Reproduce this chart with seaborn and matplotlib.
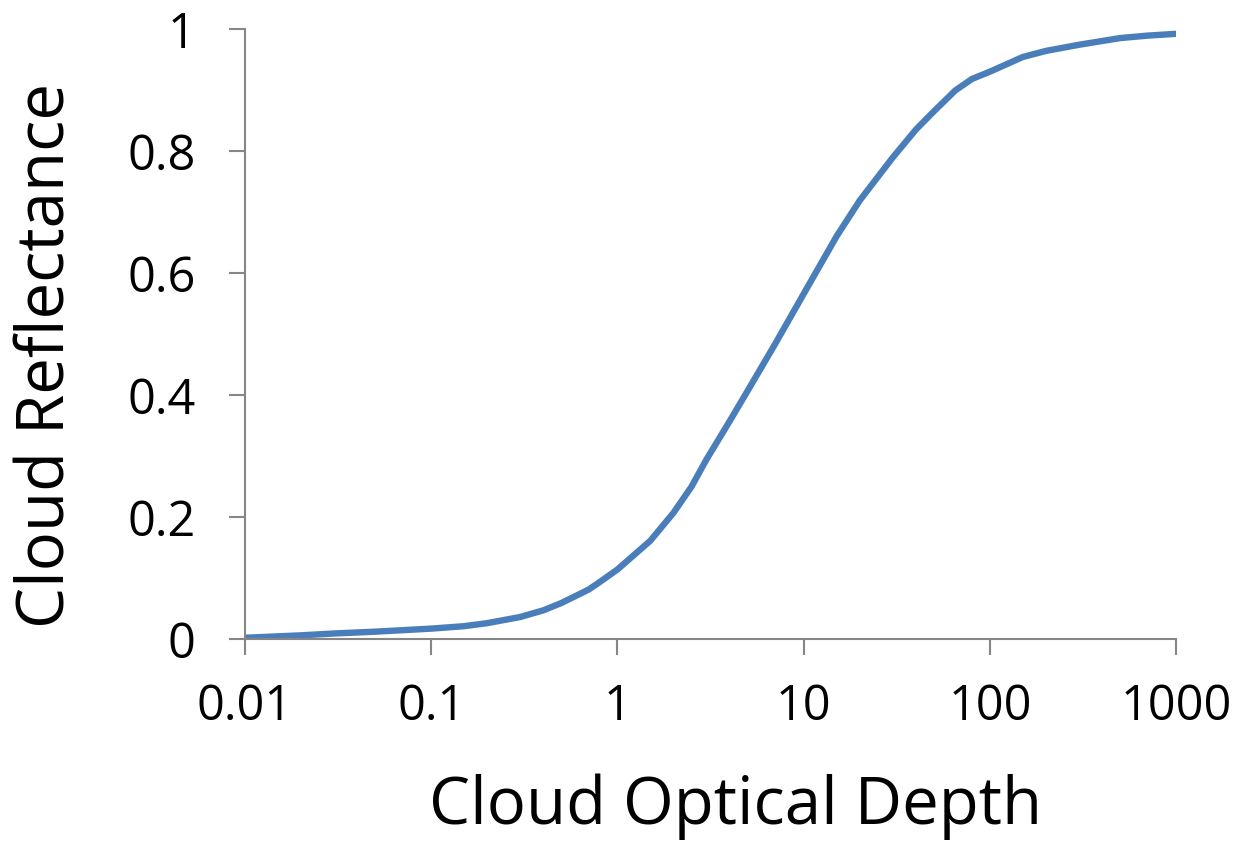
import matplotlib
matplotlib.use("Agg")
import matplotlib.pyplot as plt
import seaborn as sns
import pandas as pd
from matplotlib.ticker import FixedLocator, FixedFormatter

# Cloud reflectance as a function of cloud optical depth
optical_depth = [0.01, 0.02, 0.03, 0.05, 0.1, 0.15, 0.2, 0.3, 0.4, 0.5, 0.7,
                 0.8, 1, 1.5, 2, 2.5, 3, 4, 5, 7, 10, 15, 20, 30, 40, 50, 65,
                 80, 100, 150, 200, 300, 500, 700, 1000]
reflectance = [0.002, 0.006, 0.009, 0.012, 0.017, 0.021, 0.026, 0.036, 0.047,
               0.059, 0.081, 0.093, 0.114, 0.161, 0.207, 0.25, 0.294, 0.357,
               0.407, 0.483, 0.566, 0.66, 0.719, 0.789, 0.835, 0.865, 0.899,
               0.918, 0.93, 0.954, 0.964, 0.974, 0.985, 0.989, 0.992]

x_ticks = [0.01, 0.1, 1, 10, 100, 1000]
x_tick_labels = ["0.01", "0.1", "1", "10", "100", "1000"]
y_ticks = [0, 0.2, 0.4, 0.6, 0.8, 1]
y_tick_labels = ["0", "0.2", "0.4", "0.6", "0.8", "1"]

sns.set_style("ticks")
plt.rcParams["font.family"] = ["Open Sans", "DejaVu Sans"]
plt.rcParams["text.color"] = "black"
plt.rcParams["axes.labelcolor"] = "black"

df = pd.DataFrame({"depth": optical_depth, "refl": reflectance})

fig = plt.figure(figsize=(12.51, 8.43), dpi=100)
ax = fig.add_axes([0.1958, 0.242, 0.7445, 0.7237])

sns.lineplot(data=df, x="depth", y="refl", ax=ax, color="#4a7ebb",
             linewidth=4.6, solid_capstyle="round", solid_joinstyle="round")

ax.set_xscale("log")
ax.set_xlim(0.01, 1000)
ax.set_ylim(0, 1)
ax.xaxis.set_major_locator(FixedLocator(x_ticks))
ax.xaxis.set_major_formatter(FixedFormatter(x_tick_labels))
ax.xaxis.set_minor_locator(FixedLocator([]))
ax.yaxis.set_major_locator(FixedLocator(y_ticks))
ax.yaxis.set_major_formatter(FixedFormatter(y_tick_labels))

spine_color = "#868686"
for side in ("top", "right"):
    ax.spines[side].set_visible(False)
for side in ("left", "bottom"):
    ax.spines[side].set_color(spine_color)
    ax.spines[side].set_linewidth(1.5)

ax.tick_params(axis="both", which="major", direction="out", length=11.5,
               width=1.5, color=spine_color, labelsize=35, labelcolor="black")
ax.tick_params(axis="x", pad=20)
ax.tick_params(axis="y", pad=24)

ax.set_xlabel("Cloud Optical Depth", fontsize=47, labelpad=30, color="black")
ax.set_ylabel("Cloud Reflectance", fontsize=47, labelpad=34, color="black")
ax.xaxis.label.set_x(0.527)
ax.yaxis.label.set_y(0.464)

fig.savefig("out.png", dpi=100)
